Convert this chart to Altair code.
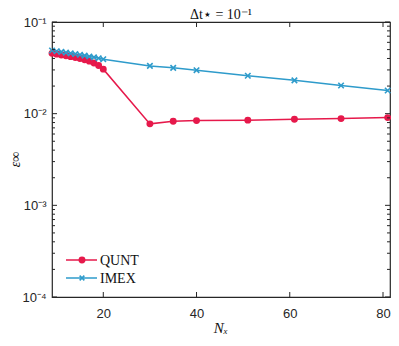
import altair as alt
import pandas as pd

# ---- data ----
nx = [9, 10, 11, 12, 13, 14, 15, 16, 17, 18, 19, 20, 30, 35, 40, 51, 61, 71, 81]
qunt = [0.0455, 0.0446, 0.0437, 0.0428, 0.0419, 0.0410, 0.0400, 0.0388, 0.0374, 0.0357, 0.0336, 0.0306,
        0.00774, 0.00826, 0.0084, 0.0085, 0.00869, 0.00883, 0.00906]
imex = [0.0489, 0.0480, 0.0472, 0.0463, 0.0455, 0.0447, 0.0439, 0.0430, 0.0421, 0.0412, 0.0402, 0.0393,
        0.0332, 0.0316, 0.0298, 0.0259, 0.0231, 0.0203, 0.0179]
series_names = ["QUNT", "IMEX"]
colors = ["#E6194B", "#2E9BCB"]
x_ticks = [20, 40, 60, 80]
y_ticks = [1e-4, 1e-3, 1e-2, 1e-1]
y_tick_labels = ["10⁻⁴", "10⁻³", "10⁻²", "10⁻¹"]
y_minor = [m * 10 ** k for k in (-4, -3, -2) for m in range(2, 10)]
title_text = "Δt⋆  =  10⁻¹"
x_title = "Nₓ"
y_title = "ε∞"

W, H = 338, 275
FRAME = "#262626"

df = pd.DataFrame({
    "nx": nx + nx,
    "err": qunt + imex,
    "series": ["QUNT"] * len(nx) + ["IMEX"] * len(nx),
})

xscale = alt.Scale(domain=[9, 81.5], nice=False, zero=False)
yscale = alt.Scale(type="log", domain=[1e-4, 1e-1], nice=False)
cscale = alt.Scale(domain=series_names, range=colors)

label_expr = " : ".join(
    f"datum.value < {v * 1.5} ? '{t}'" for v, t in zip(y_ticks, y_tick_labels)
) + " : ''"

x_axis = alt.Axis(values=x_ticks, ticks=False, domain=False, grid=False,
                  labelFont="Liberation Sans", labelFontSize=13, labelColor="#262626",
                  labelPadding=10, title=None)
y_axis = alt.Axis(values=y_ticks, labelExpr=label_expr, ticks=False, domain=False, grid=False,
                  labelFont="Liberation Sans", labelFontSize=13, labelColor="#262626",
                  labelPadding=6, title=None)

def X(field):
    return alt.X(f"{field}:Q", scale=xscale, axis=x_axis)

def Y(field):
    return alt.Y(f"{field}:Q", scale=yscale, axis=y_axis)

base = alt.Chart(df)
lines = base.mark_line(strokeWidth=1.5).encode(
    x=X("nx"), y=Y("err"), color=alt.Color("series:N", scale=cscale, legend=None), detail="series:N")

circle_pts = base.transform_filter(alt.datum.series == "QUNT").mark_point(
    filled=True, shape="circle", size=48, opacity=1).encode(
    x=X("nx"), y=Y("err"), color=alt.Color("series:N", scale=cscale, legend=None))

xpath = "M-1,-1L1,1M-1,1L1,-1"
cross_pts = base.transform_filter(alt.datum.series == "IMEX").mark_point(
    filled=False, shape=xpath, size=30, strokeWidth=1.6, opacity=1).encode(
    x=X("nx"), y=Y("err"), color=alt.Color("series:N", scale=cscale, legend=None))

# ---- legend (drawn in pixel layout space) ----
leg_rows = {"QUNT": H - 37, "IMEX": H - 19}
legend_layers = []
for name in series_names:
    d = alt.Chart(pd.DataFrame({"series": [name]}))
    yrow = leg_rows[name]
    col = alt.Color("series:N", scale=cscale, legend=None)
    legend_layers.append(d.mark_rule(strokeWidth=1.5).encode(
        x=alt.value(14), x2=alt.value(45), y=alt.value(yrow), color=col))
    if name == "QUNT":
        legend_layers.append(d.mark_point(filled=True, shape="circle", size=48, opacity=1).encode(
            x=alt.value(30), y=alt.value(yrow), color=col))
    else:
        legend_layers.append(d.mark_point(filled=False, shape=xpath, size=22, strokeWidth=1.6, opacity=1).encode(
            x=alt.value(30), y=alt.value(yrow), color=col))
    legend_layers.append(d.mark_text(align="left", baseline="middle", font="Liberation Serif",
                                     fontSize=14, color="#111").encode(
        x=alt.value(48), y=alt.value(yrow + 1), text="series:N"))

# ---- titles as text ----
tdf = alt.Chart(pd.DataFrame({"t": [title_text]}))
title_layer = tdf.mark_text(align="center", baseline="alphabetic", font="Liberation Serif",
                            fontSize=14, color="#111").encode(
    x=alt.value(W / 2), y=alt.value(-3), text="t:N")
ydf = alt.Chart(pd.DataFrame({"t": [y_title]}))
ytitle_layer = ydf.mark_text(align="center", baseline="middle", font="Liberation Serif",
                             fontStyle="italic", fontSize=14, angle=270, color="#111").encode(
    x=alt.value(-36), y=alt.value(H / 2), text="t:N")
xdf = alt.Chart(pd.DataFrame({"t": [x_title]}))
xtitle_layer = xdf.mark_text(align="center", baseline="middle", font="Liberation Serif",
                             fontStyle="italic", fontSize=15, color="#111").encode(
    x=alt.value(W / 2), y=alt.value(H + 31), text="t:N")

# ---- inward ticks ----
def yticks(vals, length):
    d = alt.Chart(pd.DataFrame({"v": vals}))
    left = d.mark_rule(color=FRAME, strokeWidth=1).encode(
        y=Y("v"), x=alt.value(0), x2=alt.value(length))
    right = d.mark_rule(color=FRAME, strokeWidth=1).encode(
        y=Y("v"), x=alt.value(W), x2=alt.value(W - length))
    return [left, right]

def xticks(vals, length):
    d = alt.Chart(pd.DataFrame({"v": vals}))
    bottom = d.mark_rule(color=FRAME, strokeWidth=1).encode(
        x=X("v"), y=alt.value(H), y2=alt.value(H - length))
    top = d.mark_rule(color=FRAME, strokeWidth=1).encode(
        x=X("v"), y=alt.value(0), y2=alt.value(length))
    return [bottom, top]

layers = ([lines, circle_pts, cross_pts] + legend_layers + [title_layer, ytitle_layer, xtitle_layer]
          + yticks(y_ticks, 5) + yticks(y_minor, 3) + xticks(x_ticks, 5))

chart = alt.layer(*layers).properties(
    width=W, height=H,
    background="white",
    padding={"left": 44, "top": 14, "right": 1, "bottom": 41},
    autosize=alt.AutoSizeParams(type="none"),
).configure_view(stroke=FRAME, strokeWidth=1.2)

chart.save("out.html", embed_options={"renderer": "svg", "actions": False})
